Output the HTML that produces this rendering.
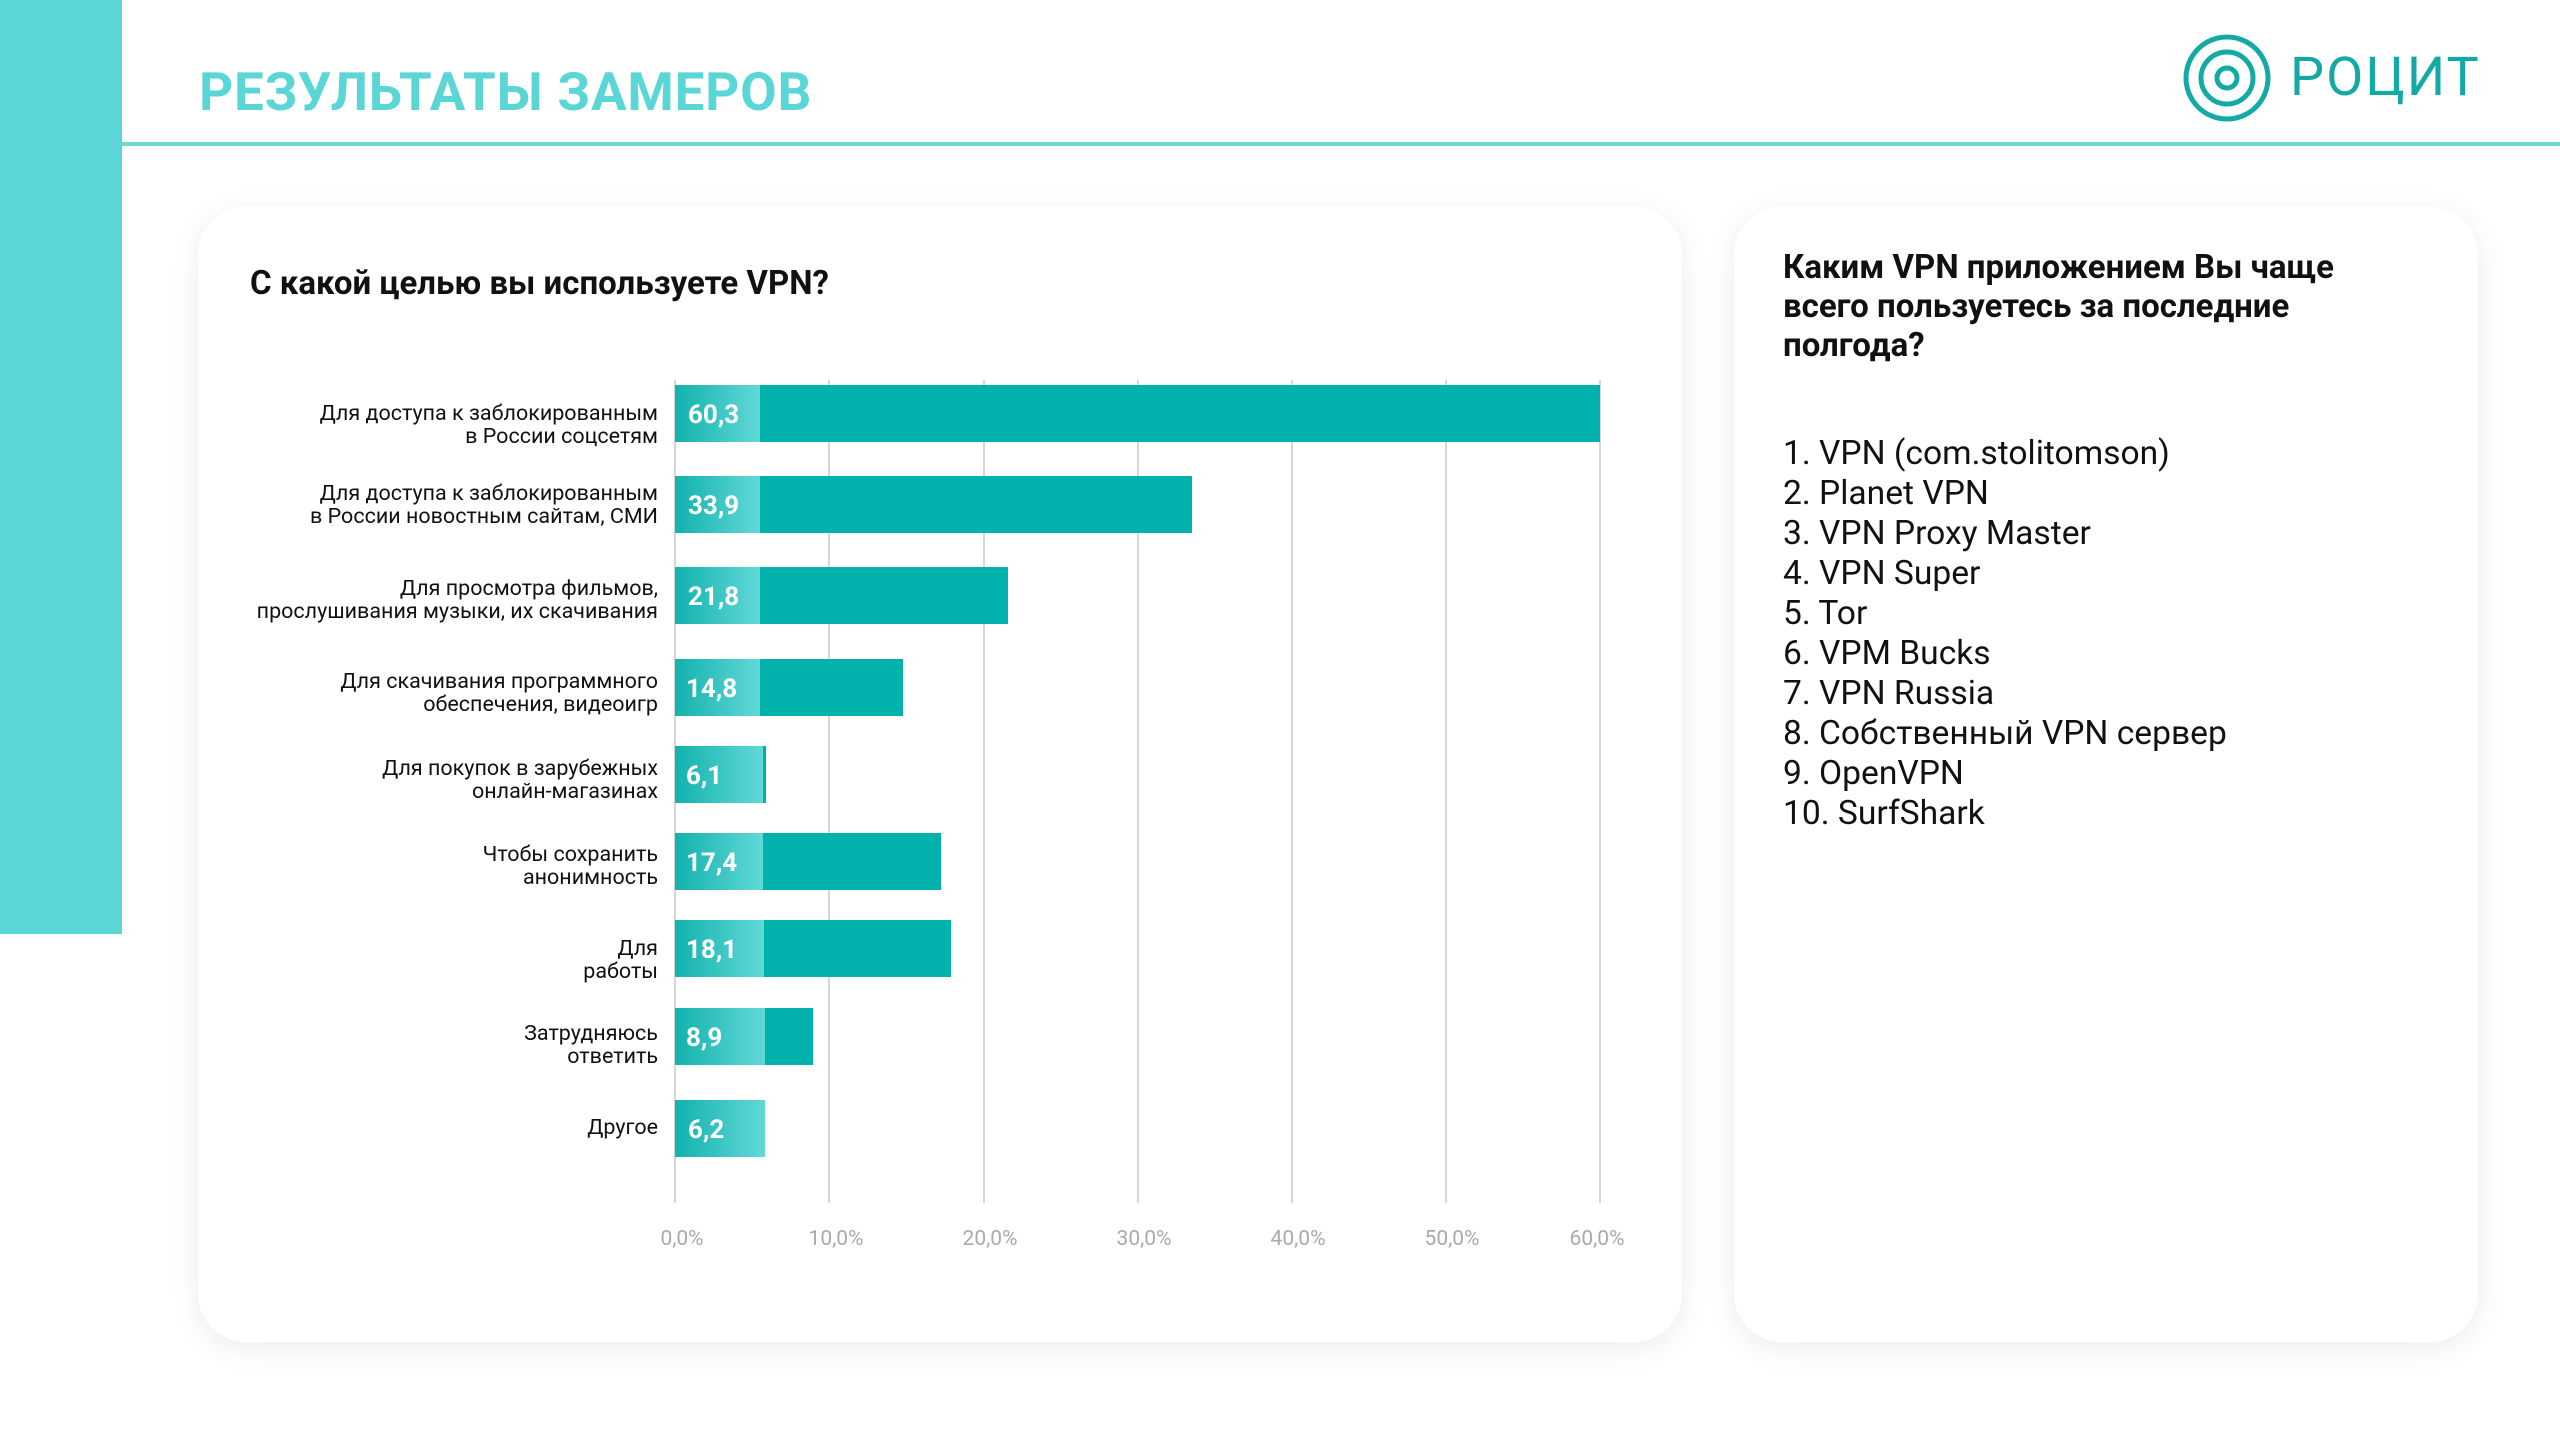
<!DOCTYPE html>
<html><head><meta charset="utf-8"><style>
html,body{margin:0;padding:0;background:#fff;}
body{width:2560px;height:1440px;position:relative;overflow:hidden;font-family:"Roboto","Liberation Sans","DejaVu Sans",sans-serif;}
.side{position:absolute;left:0;top:0;width:122px;height:934px;background:#5bd6d6;}
.title{position:absolute;left:199px;top:61px;font-size:53px;font-weight:bold;color:#5bd6d6;letter-spacing:0.8px;}
.hline{position:absolute;left:122px;top:142px;width:2438px;height:4px;background:#6fd8d8;}
.card{position:absolute;background:#fff;border-radius:48px;box-shadow:0 6px 30px rgba(0,0,0,0.08);}
.logo{position:absolute;left:2290px;top:46px;font-size:54px;color:#13aaa6;letter-spacing:2px;}
.h2{position:absolute;font-weight:bold;color:#111;}
.list{position:absolute;left:1783px;top:434px;font-size:33.6px;line-height:40px;color:#111;}
</style></head><body>
<div class="side"></div>
<div class="title">РЕЗУЛЬТАТЫ ЗАМЕРОВ</div>
<div class="hline"></div>
<svg style="position:absolute;left:2180px;top:32px" width="96" height="96">
<circle cx="47" cy="46" r="41" fill="none" stroke="#13aaa6" stroke-width="5"/>
<circle cx="47" cy="46" r="26" fill="none" stroke="#13aaa6" stroke-width="5"/>
<circle cx="47" cy="46" r="10" fill="none" stroke="#13aaa6" stroke-width="5"/>
</svg>
<div class="logo">РОЦИТ</div>
<div class="card" style="left:198px;top:207px;width:1484px;height:1135px;"></div>
<div class="card" style="left:1734px;top:207px;width:744px;height:1135px;"></div>
<div class="h2" style="left:250px;top:264px;font-size:33px;">С какой целью вы используете VPN?</div>
<div class="h2" style="left:1783px;top:248px;font-size:33px;line-height:39px;">Каким VPN приложением Вы чаще<br>всего пользуетесь за последние<br>полгода?</div>
<div class="list">1. VPN (com.stolitomson)<br>2. Planet VPN<br>3. VPN Proxy Master<br>4. VPN Super<br>5. Tor<br>6. VPM Bucks<br>7. VPN Russia<br>8. Собственный VPN сервер<br>9. OpenVPN<br>10. SurfShark</div>
<svg style="position:absolute;left:0;top:0" width="2560" height="1440" font-family="Roboto, Liberation Sans, sans-serif">
<defs><linearGradient id="g" x1="0" x2="1"><stop offset="0" stop-color="#12b2ad"/><stop offset="1" stop-color="#62d8d8"/></linearGradient></defs>
<g stroke="#d6d6d6" stroke-width="2">
<line x1="675" y1="380" x2="675" y2="1203"/><line x1="829" y1="380" x2="829" y2="1203"/><line x1="984" y1="380" x2="984" y2="1203"/><line x1="1138" y1="380" x2="1138" y2="1203"/><line x1="1292" y1="380" x2="1292" y2="1203"/><line x1="1446" y1="380" x2="1446" y2="1203"/><line x1="1600" y1="380" x2="1600" y2="1203"/>
</g>
<g font-size="21" fill="#aaa" text-anchor="middle">
<text x="682" y="1245">0,0%</text><text x="836" y="1245">10,0%</text><text x="990" y="1245">20,0%</text><text x="1144" y="1245">30,0%</text><text x="1298" y="1245">40,0%</text><text x="1452" y="1245">50,0%</text><text x="1597" y="1245">60,0%</text>
</g>
<g>
<rect x="675" y="385" width="925" height="57" fill="#00b1ac"/><rect x="675" y="385" width="85" height="57" fill="url(#g)"/>
<rect x="675" y="476" width="517" height="57" fill="#00b1ac"/><rect x="675" y="476" width="85" height="57" fill="url(#g)"/>
<rect x="675" y="567" width="333" height="57" fill="#00b1ac"/><rect x="675" y="567" width="85" height="57" fill="url(#g)"/>
<rect x="675" y="659" width="228" height="57" fill="#00b1ac"/><rect x="675" y="659" width="85" height="57" fill="url(#g)"/>
<rect x="675" y="746" width="91" height="57" fill="#00b1ac"/><rect x="675" y="746" width="88" height="57" fill="url(#g)"/>
<rect x="675" y="833" width="266" height="57" fill="#00b1ac"/><rect x="675" y="833" width="88" height="57" fill="url(#g)"/>
<rect x="675" y="920" width="276" height="57" fill="#00b1ac"/><rect x="675" y="920" width="89" height="57" fill="url(#g)"/>
<rect x="675" y="1008" width="138" height="57" fill="#00b1ac"/><rect x="675" y="1008" width="90" height="57" fill="url(#g)"/>
<rect x="675" y="1100" width="90" height="57" fill="url(#g)"/>
</g>
<g font-size="26" font-weight="bold" fill="#fff">
<text x="688" y="423">60,3</text><text x="688" y="514">33,9</text><text x="688" y="605">21,8</text><text x="686" y="697">14,8</text><text x="686" y="784">6,1</text><text x="686" y="871">17,4</text><text x="686" y="958">18,1</text><text x="686" y="1046">8,9</text><text x="688" y="1138">6,2</text>
</g>
<g font-size="21.5" fill="#111" text-anchor="end">
<text x="658" y="420">Для доступа к заблокированным</text><text x="658" y="443">в России соцсетям</text>
<text x="658" y="500">Для доступа к заблокированным</text><text x="658" y="523">в России новостным сайтам, СМИ</text>
<text x="658" y="595">Для просмотра фильмов,</text><text x="658" y="618">прослушивания музыки, их скачивания</text>
<text x="658" y="688">Для скачивания программного</text><text x="658" y="711">обеспечения, видеоигр</text>
<text x="658" y="775">Для покупок в зарубежных</text><text x="658" y="798">онлайн-магазинах</text>
<text x="658" y="861">Чтобы сохранить</text><text x="658" y="884">анонимность</text>
<text x="658" y="955">Для</text><text x="658" y="978">работы</text>
<text x="658" y="1040">Затрудняюсь</text><text x="658" y="1063">ответить</text>
<text x="658" y="1134">Другое</text>
</g>
</svg>
</body></html>
